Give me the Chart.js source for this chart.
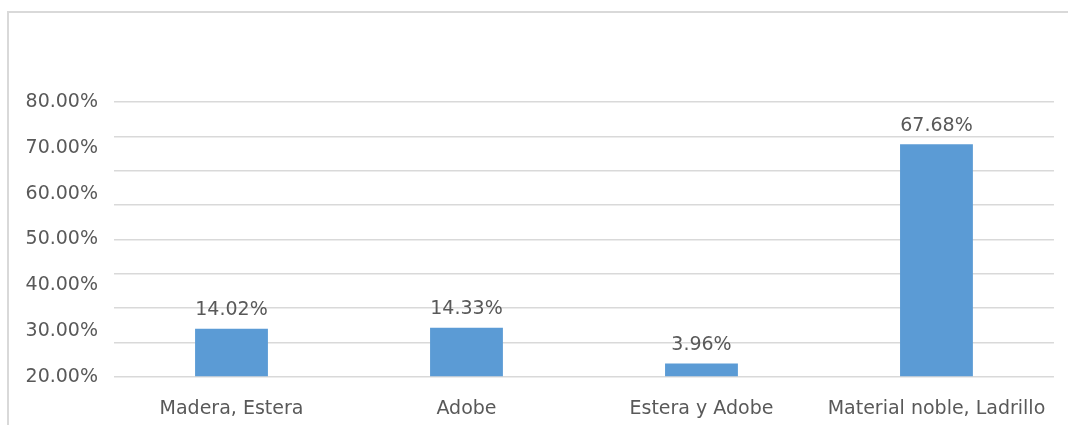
<!DOCTYPE html>
<html>
<head>
<meta charset="utf-8">
<script src="https://cdn.jsdelivr.net/npm/chart.js@4/dist/chart.umd.min.js"></script>
<style>
    body { margin: 0; background: #fff; overflow: hidden; }
    #wrap { position: relative; width: 1068px; height: 425px; overflow: hidden; }
    #frame {
        position: absolute; left: 7px; top: 11px; width: 1100px; height: 500px;
        border-top: 2px solid #d9d9d9; border-left: 2px solid #d9d9d9;
    }
    #materialChart { position: absolute; left: 0; top: 0; }
</style>
</head>
<body>
<div id="wrap">
    <div id="frame"></div>
    <canvas id="materialChart" width="1068" height="425"></canvas>
</div>
<script>
const categories = ['Madera, Estera', 'Adobe', 'Estera y Adobe', 'Material noble, Ladrillo'];
const values = [14.02, 14.33, 3.96, 67.68];
const tickLabels = ['20.00%', '30.00%', '40.00%', '50.00%', '60.00%', '70.00%', '80.00%'];

const textColor = '#595959';
const font = { family: 'DejaVu Sans', size: 19 };

// Porcentaje encima de cada barra
const valueLabels = {
    id: 'valueLabels',
    afterDatasetsDraw(chart) {
        const ctx = chart.ctx;
        const meta = chart.getDatasetMeta(0);
        ctx.save();
        ctx.font = `${font.size}px ${font.family}`;
        ctx.fillStyle = textColor;
        ctx.textAlign = 'center';
        ctx.textBaseline = 'alphabetic';
        meta.data.forEach((bar, i) => {
            ctx.fillText(values[i].toFixed(2) + '%', bar.x, bar.y - 13.5);
        });
        ctx.restore();
    }
};

const ctx = document.getElementById('materialChart').getContext('2d');
new Chart(ctx, {
    type: 'bar',
    data: {
        labels: categories,
        datasets: [{
            data: values,
            backgroundColor: '#5b9bd5',
            borderWidth: 0,
            categoryPercentage: 1,
            barPercentage: 0.31,
            yAxisID: 'y'
        }]
    },
    options: {
        responsive: false,
        animation: false,
        layout: { padding: { top: 102, right: 14, bottom: 0, left: 10 } },
        scales: {
            x: {
                grid: { display: false, drawTicks: false },
                border: { display: false },
                ticks: { color: textColor, font: font, padding: 21, maxRotation: 0 },
                afterFit(scale) { scale.height = 48; }
            },
            yLabels: {
                type: 'linear',
                position: 'left',
                min: 0,
                max: 6,
                grid: { display: false, drawTicks: false },
                border: { display: false },
                ticks: {
                    stepSize: 1,
                    color: textColor,
                    font: font,
                    padding: 16,
                    callback: (v) => tickLabels[v]
                },
                afterFit(scale) { scale.width = 104; }
            },
            y: {
                type: 'linear',
                position: 'left',
                min: 0,
                max: 80,
                grid: { color: '#d9d9d9', lineWidth: 1.6, drawTicks: false },
                border: { display: false },
                ticks: { stepSize: 10, display: false },
                afterFit(scale) { scale.width = 0; }
            }
        },
        plugins: {
            legend: { display: false },
            tooltip: { enabled: false }
        }
    },
    plugins: [valueLabels]
});
</script>
</body>
</html>
